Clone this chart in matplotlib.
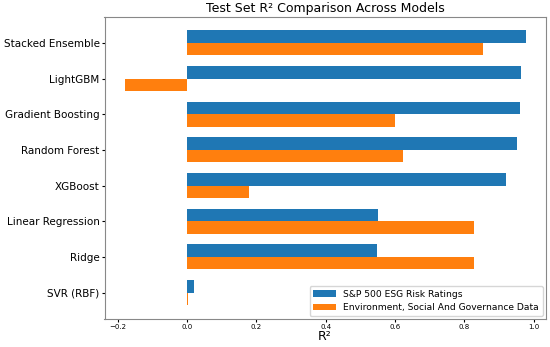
import matplotlib
matplotlib.use("Agg")
import matplotlib.pyplot as plt
import numpy as np

models = ["Stacked Ensemble", "LightGBM", "Gradient Boosting", "Random Forest",
          "XGBoost", "Linear Regression", "Ridge", "SVR (RBF)"]
sp500 = [0.977, 0.963, 0.960, 0.952, 0.921, 0.552, 0.549, 0.021]
esg = [0.853, -0.180, 0.601, 0.622, 0.178, 0.829, 0.829, 0.002]
series_names = ["S&P 500 ESG Risk Ratings", "Environment, Social And Governance Data"]
colors = ["#1f77b4", "#ff7f0e"]

fig = plt.figure(figsize=(5.5, 3.47), dpi=100)
ax = fig.add_axes([0.190, 0.081, 0.802, 0.871])

y = np.arange(len(models))
h = 0.35
ax.barh(y - h / 2, sp500, height=h, color=colors[0], label=series_names[0])
ax.barh(y + h / 2, esg, height=h, color=colors[1], label=series_names[1])
ax.set_yticks(y)
ax.set_yticklabels(models, fontsize=7.45)
ax.invert_yaxis()
ax.tick_params(axis="x", labelsize=5, length=2, pad=2)
ax.tick_params(axis="y", length=2, pad=1.5)
ax.set_xlabel("R²", fontsize=9, labelpad=0)
ax.set_title("Test Set R² Comparison Across Models", fontsize=9.0, pad=3)
for s in ax.spines.values():
    s.set_color("#888888")
ax.legend(loc="lower right", fontsize=6.6, handlelength=2.5, borderaxespad=0.3)

fig.savefig("out.png", dpi=100)
